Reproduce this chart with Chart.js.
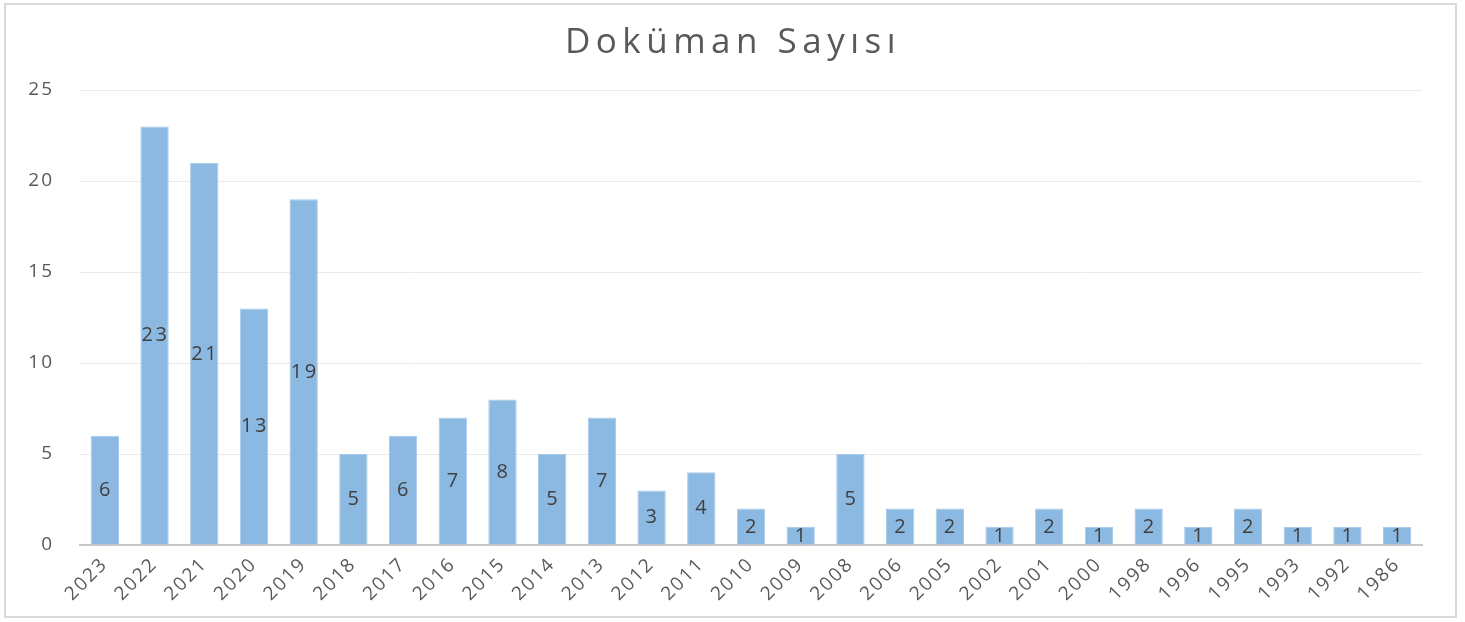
<!DOCTYPE html>
<html>
<head>
<meta charset="utf-8">
<script src="https://cdn.jsdelivr.net/npm/chart.js@4"></script>
<style>
  html, body { margin: 0; padding: 0; background: #fff; }
  #wrap { position: relative; width: 1465px; height: 622px; }
  #frame { position: absolute; left: 4px; top: 3px; width: 1453px; height: 615px; border: 2px solid #d9d9d9; box-sizing: border-box; pointer-events: none; }
  canvas { display: block; }
</style>
</head>
<body>
<div id="wrap">
  <canvas id="c" width="1465" height="622"></canvas>
  <div id="frame"></div>
</div>
<script>
const chartTitle = 'Doküman Sayısı';
const years = ['2023','2022','2021','2020','2019','2018','2017','2016','2015','2014','2013','2012','2011','2010','2009','2008','2006','2005','2002','2001','2000','1998','1996','1995','1993','1992','1986'];
const documentCounts = [6,23,21,13,19,5,6,7,8,5,7,3,4,2,1,5,2,2,1,2,1,2,1,2,1,1,1];
const yTicks = [0,5,10,15,20,25];

const FONT = '"Open Sans", "DejaVu Sans", sans-serif';

// Wide tracking for all axis and value text
const tracking = {
  id: 'tracking',
  beforeUpdate(chart) { if ('letterSpacing' in chart.ctx) chart.ctx.letterSpacing = '2px'; },
  beforeDraw(chart) { if ('letterSpacing' in chart.ctx) chart.ctx.letterSpacing = '2px'; }
};

// Title with wide letter spacing, centered over the canvas
const titlePlugin = {
  id: 'spacedTitle',
  afterDraw(chart) {
    const ctx = chart.ctx;
    ctx.save();
    ctx.font = '35px ' + FONT;
    ctx.fillStyle = '#595959';
    ctx.textAlign = 'center';
    ctx.textBaseline = 'middle';
    if ('letterSpacing' in ctx) ctx.letterSpacing = '5.5px';
    ctx.fillText(chartTitle, 733, 43);
    ctx.restore();
  }
};

// Value labels centered inside each bar
const centerLabels = {
  id: 'centerLabels',
  afterDatasetsDraw(chart) {
    const ctx = chart.ctx;
    const meta = chart.getDatasetMeta(0);
    const yScale = chart.scales.y;
    ctx.save();
    ctx.font = '20px ' + FONT;
    ctx.fillStyle = '#404040';
    ctx.textAlign = 'center';
    ctx.textBaseline = 'middle';
    if ('letterSpacing' in ctx) ctx.letterSpacing = '2.5px';
    meta.data.forEach((bar, i) => {
      const v = documentCounts[i];
      const mid = (yScale.getPixelForValue(v) + yScale.getPixelForValue(0)) / 2;
      ctx.fillText(String(v), bar.x + 1, mid);
    });
    ctx.restore();
  }
};

new Chart(document.getElementById('c'), {
  type: 'bar',
  data: {
    labels: years,
    datasets: [{
      data: documentCounts,
      backgroundColor: '#8cb9e2',
      borderColor: '#a6c9ea',
      borderWidth: 1,
      categoryPercentage: 1,
      barPercentage: 0.57
    }]
  },
  options: {
    responsive: false,
    animation: false,
    layout: { padding: { left: 0, right: 43, top: 90, bottom: 0 } },
    plugins: {
      legend: { display: false },
      title: { display: false },
      tooltip: { enabled: false }
    },
    scales: {
      x: {
        grid: { display: false },
        border: { color: '#c8c8c8', width: 2 },
        ticks: {
          color: '#595959',
          font: { size: 19, family: FONT },
          maxRotation: 45,
          minRotation: 45,
          padding: 0,
          autoSkip: false
        },
        afterFit(scale) { scale.height = 77; }
      },
      y: {
        min: 0,
        max: 25,
        afterBuildTicks(scale) { scale.ticks = yTicks.map(v => ({ value: v })); },
        grid: { color: '#ebebeb', lineWidth: 1, drawTicks: false },
        border: { display: false },
        ticks: {
          color: '#595959',
          font: { size: 19, family: FONT },
          padding: 26
        },
        afterFit(scale) { scale.width = 80; }
      }
    }
  },
  plugins: [tracking, titlePlugin, centerLabels]
});
</script>
</body>
</html>
